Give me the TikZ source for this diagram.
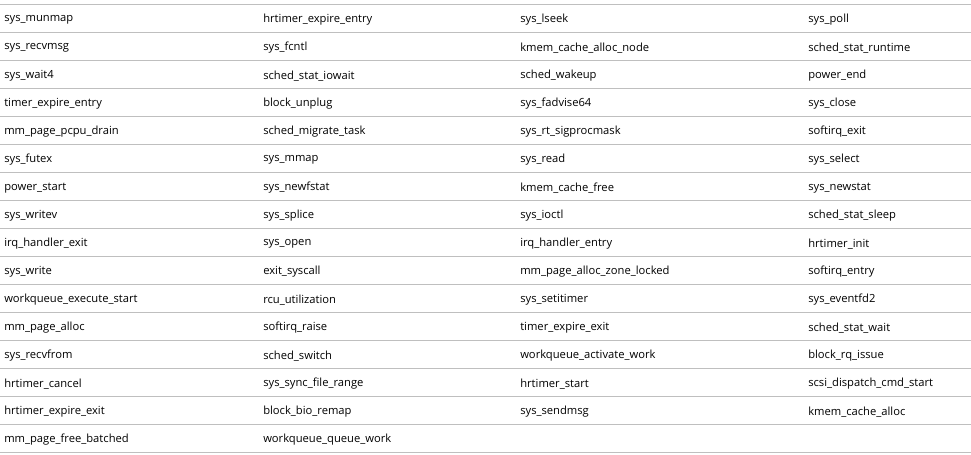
\documentclass[tikz,border=0pt]{standalone}
\usepackage{fontspec}
\setmainfont{Open Sans}
\begin{document}
\begin{tikzpicture}[x=0.75pt,y=-0.75pt,
  cell/.style={anchor=west,inner sep=0pt,font=\fontsize{8.4}{10}\selectfont},
  rule/.style={draw=black!25,line width=0.6pt}]
\useasboundingbox (0,0) rectangle (971,454);
\def\colA{sys\_munmap,sys\_recvmsg,sys\_wait4,timer\_expire\_entry,mm\_page\_pcpu\_drain,sys\_futex,power\_start,sys\_writev,irq\_handler\_exit,sys\_write,workqueue\_execute\_start,mm\_page\_alloc,sys\_recvfrom,hrtimer\_cancel,hrtimer\_expire\_exit,mm\_page\_free\_batched}
\def\colB{hrtimer\_expire\_entry,sys\_fcntl,sched\_stat\_iowait,block\_unplug,sched\_migrate\_task,sys\_mmap,sys\_newfstat,sys\_splice,sys\_open,exit\_syscall,rcu\_utilization,softirq\_raise,sched\_switch,sys\_sync\_file\_range,block\_bio\_remap,workqueue\_queue\_work}
\def\colC{sys\_lseek,kmem\_cache\_alloc\_node,sched\_wakeup,sys\_fadvise64,sys\_rt\_sigprocmask,sys\_read,kmem\_cache\_free,sys\_ioctl,irq\_handler\_entry,mm\_page\_alloc\_zone\_locked,sys\_setitimer,timer\_expire\_exit,workqueue\_activate\_work,hrtimer\_start,sys\_sendmsg}
\def\colD{sys\_poll,sched\_stat\_runtime,power\_end,sys\_close,softirq\_exit,sys\_select,sys\_newstat,sched\_stat\_sleep,hrtimer\_init,softirq\_entry,sys\_eventfd2,sched\_stat\_wait,block\_rq\_issue,scsi\_dispatch\_cmd\_start,kmem\_cache\_alloc}
\foreach \t [count=\i] in \colA {\node[cell] (a\i) at (4,{20+(\i-1)*28}) {\t};}
\foreach \t [count=\i] in \colB {\node[cell] (b\i) at (263,{20+(\i-1)*28}) {\t};}
\foreach \t [count=\i] in \colC {\node[cell] (c\i) at (520,{20+(\i-1)*28}) {\t};}
\foreach \t [count=\i] in \colD {\node[cell] (d\i) at (808,{20+(\i-1)*28}) {\t};}
\foreach \k in {0,...,16} {\path[rule] (0,{4+\k*28}) -- (971,{4+\k*28});}
\end{tikzpicture}
\end{document}
